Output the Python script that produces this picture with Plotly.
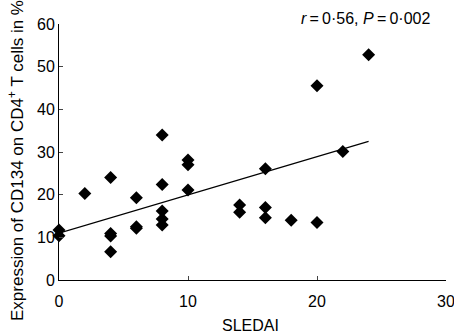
import plotly.graph_objects as go

# Data
sledai = [0, 0, 2, 4, 4, 4, 4, 6, 6, 6, 8, 8, 8, 8, 8, 10, 10, 10, 14, 14, 16, 16, 16, 18, 20, 20, 22, 24]
cd134 = [11.7, 10.4, 20.3, 24.0, 10.9, 10.3, 6.6, 19.3, 12.5, 12.1, 34.0, 22.4, 16.2, 14.3, 12.9,
         28.1, 27.0, 21.1, 17.6, 15.9, 26.1, 17.0, 14.6, 14.0, 45.5, 13.5, 30.1, 52.8]
fit_x = [0, 24]
fit_y = [11.0, 32.5]

x_ticks = [0, 10, 20, 30]
y_ticks = [0, 10, 20, 30, 40, 50, 60]

x_title = "SLEDAI"
y_title = "Expression of CD134 on CD4<sup>+</sup> T cells in %"
stat_text = "<i>r</i>\u2009=\u20090·56, <i>P</i>\u2009=\u20090·002"

font_family = "Liberation Sans, Arial, sans-serif"
fs = 16

# plot area in pixels
L, R, T, B = 59, 446, 24, 280
W, H = R - L, B - T


def px(x):
    return (x - L) / W


def py(y):
    return (B - y) / H


fig = go.Figure()
fig.add_trace(go.Scatter(x=fit_x, y=fit_y, mode="lines",
                         line=dict(color="black", width=1.2), showlegend=False))
fig.add_trace(go.Scatter(x=sledai, y=cd134, mode="markers",
                         marker=dict(symbol="diamond", size=10, color="black"),
                         showlegend=False, cliponaxis=False))

fig.update_layout(
    width=454, height=334,
    margin=dict(l=L, r=454 - R, t=T, b=334 - B, autoexpand=False),
    paper_bgcolor="white", plot_bgcolor="white",
    font=dict(family=font_family, size=fs, color="black"),
    xaxis=dict(range=[0, 30], tickvals=x_ticks, ticks="inside", ticklen=4,
               showline=True, linecolor="black", linewidth=1, showgrid=False,
               zeroline=False, tickfont=dict(size=fs), ticklabelstandoff=7,
               ticklabeloverflow="allow", automargin=False),
    yaxis=dict(range=[0, 60], tickvals=y_ticks, ticks="inside", ticklen=4,
               showline=True, linecolor="black", linewidth=1, showgrid=False,
               zeroline=False, tickfont=dict(size=fs), ticklabeloverflow="allow",
               automargin=False),
    annotations=[
        dict(text=stat_text, x=px(432), y=py(18), xref="paper", yref="paper",
             showarrow=False, xanchor="right", yanchor="middle", font=dict(size=fs)),
        dict(text=x_title, x=px(250), y=py(325), xref="paper", yref="paper",
             showarrow=False, xanchor="center", yanchor="middle", font=dict(size=fs)),
        dict(text=y_title, x=px(15.5), y=py(160.5), xref="paper", yref="paper",
             showarrow=False, xanchor="center", yanchor="middle", textangle=-90,
             font=dict(size=17)),
    ],
)

fig.write_html("out.html")
